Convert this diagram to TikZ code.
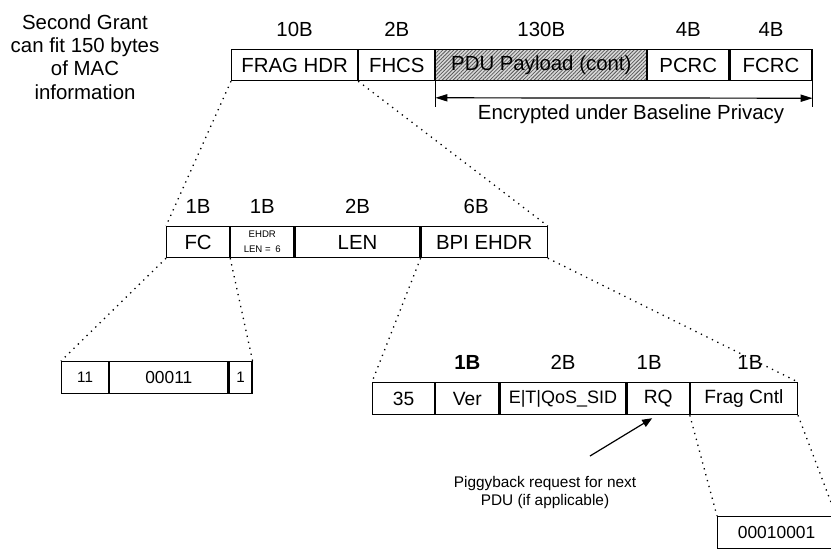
\documentclass[tikz,border=0pt]{standalone}
\usepackage{fontspec}
\setmainfont{Liberation Sans}
\usetikzlibrary{positioning,calc,patterns.meta,arrows.meta}

\tikzset{
  field/.style={draw, line width=0.6pt, inner sep=0pt, minimum height=15.5pt, anchor=north west},
  hatched/.style={preaction={fill=gray!30}, pattern={Lines[angle=45,distance=1.3pt,line width=0.4pt]}, pattern color=black!65},
  zoomline/.style={line width=0.65pt, dash pattern=on 0.65pt off 2.4pt},
  span/.style={line width=0.6pt, {Triangle[length=6pt,width=3.6pt]}-{Triangle[length=6pt,width=3.6pt]}},
  pointer/.style={line width=0.6pt, -{Triangle[length=5pt,width=4pt]}}
}

\begin{document}
\begin{tikzpicture}[x=0.5pt,y=-0.5pt,font=\fontsize{10.2}{11.6}\selectfont]
  \useasboundingbox (0,0) rectangle (831,548);

  % note on the left
  \node[align=center] (grant) at (85,57) {Second Grant\\can fit 150 bytes\\of MAC\\information};

  % second grant frame
  \node[field, minimum width=63pt] (fraghdr) at (231,49) {FRAG HDR};
  \node[field, minimum width=38pt] (fhcs) at (fraghdr.north east) {FHCS};
  \node[field, hatched, minimum width=105.5pt] (pdu) at (fhcs.north east) {PDU Payload (cont)};
  \node[field, minimum width=40.5pt] (pcrc) at (pdu.north east) {PCRC};
  \node[field, minimum width=41pt] (fcrc) at (pcrc.north east) {FCRC};
  \foreach \f/\s in {fraghdr/10B, fhcs/2B, pdu/130B, pcrc/4B, fcrc/4B}
    \node[above=2.5pt of \f] (sz-\f) {\s};

  % encrypted span
  \draw[line width=0.6pt] (pdu.south west) -- ++(0,26) coordinate (encl);
  \draw[line width=0.6pt] (fcrc.south east) -- ++(0,26) coordinate (encr);
  \draw[span] ($(pdu.south west)+(0,17)$) -- ($(fcrc.south east)+(0,17)$);
  \node (enc) at (631,114) {Encrypted under Baseline Privacy};

  % fragmentation header
  \node[field, minimum width=31.5pt] (fc) at (166,226) {FC};
  \node[field, minimum width=31.5pt, align=center, font=\fontsize{4.8}{7.5}\selectfont] (ehdr) at (fc.north east) {EHDR\\LEN =\,\,\,6};
  \node[field, minimum width=62.5pt] (len) at (ehdr.north east) {LEN};
  \node[field, minimum width=63pt] (bpi) at (len.north east) {BPI EHDR};
  \node[above=2.5pt of fc] (sz-fc) {1B};
  \node[above=2.5pt of ehdr] (sz-ehdr) {1B};
  \node[above=2.5pt of len] (sz-len) {2B};
  \node[above=2.5pt of bpi, xshift=-4pt] (sz-bpi) {6B};

  % FC bits
  \node[field, minimum width=23.5pt, minimum height=16pt, font=\fontsize{7.6}{9}\selectfont] (fctype) at (61,361) {11};
  \node[field, minimum width=59pt, minimum height=16pt, font=\fontsize{8.7}{10}\selectfont] (fcparm) at (fctype.north east) {00011};
  \node[field, minimum width=11.5pt, minimum height=16pt, font=\fontsize{7.6}{9}\selectfont] (ehdron) at (fcparm.north east) {1};

  % BPI extended header
  \tikzset{bpifield/.style={field, minimum height=16pt, font=\fontsize{9.6}{11}\selectfont}}
  \node[bpifield, minimum width=31pt] (etype) at (372,382) {35};
  \node[bpifield, minimum width=31.5pt] (ver) at (etype.north east) {Ver};
  \node[bpifield, minimum width=63pt, font=\fontsize{9}{11}\selectfont] (sid) at (ver.north east) {E|T|QoS\_SID};
  \node[bpifield, minimum width=31pt] (rq) at (sid.north east) {RQ};
  \node[bpifield, minimum width=53.5pt] (frag) at (rq.north east) {Frag Cntl};
  \node[above=2.5pt of ver] (sz-ver) {\bfseries 1B};
  \node[above=2.5pt of sid] (sz-sid) {2B};
  \node[above=2.5pt of rq, xshift=-4.5pt] (sz-rq) {1B};
  \node[above=2.5pt of frag, xshift=3pt] (sz-frag) {1B};

  % fragment control bits
  \node[field, minimum width=59pt, minimum height=16pt, font=\fontsize{8.7}{10}\selectfont] (fragbits) at (717,516) {00010001};

  % piggyback note
  \node[align=center, font=\fontsize{7.7}{9}\selectfont] (piggy) at (545,493) {Piggyback request for next\\PDU (if applicable)};
  \coordinate (piggytail) at (590,456);
  \draw[pointer] (piggytail) -- ($(rq.south)+(-6,3)$);

  % zoom lines
  \draw[zoomline] (fraghdr.south west) -- (fc.north west);
  \draw[zoomline] (fhcs.south west) -- (bpi.north east);
  \draw[zoomline] (fc.south west) -- (fctype.north west);
  \draw[zoomline] (fc.south east) -- (ehdron.north east);
  \draw[zoomline] (bpi.south west) -- (etype.north west);
  \draw[zoomline] (bpi.south east) -- (frag.north east);
  \draw[zoomline] (frag.south west) -- (fragbits.north west);
  \draw[zoomline] (frag.south east) -- (fragbits.north east);
\end{tikzpicture}
\end{document}
